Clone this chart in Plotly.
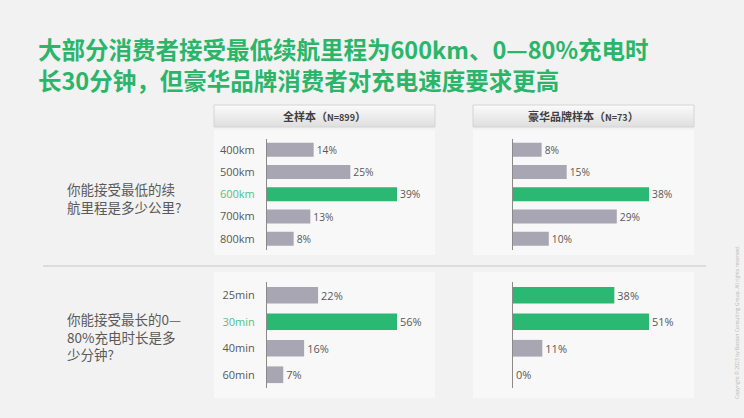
import plotly.graph_objects as go

# ---------------- data ----------------
range_categories = ["400km", "500km", "600km", "700km", "800km"]
range_all = [14, 25, 39, 13, 8]
range_luxury = [8, 15, 38, 29, 10]
range_highlight_all = ["600km"]
range_highlight_luxury = ["600km"]

charge_categories = ["25min", "30min", "40min", "60min"]
charge_all = [22, 56, 16, 7]
charge_luxury = [38, 51, 11, 0]
charge_highlight_all = ["30min"]
charge_highlight_luxury = ["25min", "30min"]

panel_titles = ["全样本（<span style='font-size:9px'>N=899</span>）",
                "豪华品牌样本（<span style='font-size:9px'>N=73</span>）"]
title_lines = ["大部分消费者接受最低续航里程为600km、0—80%充电时",
               "长30分钟，但豪华品牌消费者对充电速度要求更高"]
questions = [["你能接受最低的续", "航里程是多少公里?"],
             ["你能接受最长的0—", "80%充电时长是多", "少分钟?"]]
copyright_text = "Copyright © 2023 by Boston Consulting Group. All rights reserved."

# ---------------- style ----------------
W, H = 744, 418
BG = "#f2f2f2"
PANEL = "#f8f8f8"
GREEN = "#2bb872"
GREY_BAR = "#a9a6b3"
TXT = "#595959"
LABEL_GREEN = "#4cc388"
FONT = "Open Sans, Noto Sans CJK SC, sans-serif"
CJK = "Noto Sans CJK SC, sans-serif"


def px(x):
    return x / W


def py(y):
    return 1 - y / H


fig = go.Figure()

# subplot geometry (pixels)
left_axis_x = (267, 435)
right_axis_x = (513, 693)
left_bar_end = 397
right_bar_end = 649
top_y = (138.5, 250)
bot_y = (282, 388)

panels = [
    (range_all, range_categories, range_highlight_all, "x", "y", left_axis_x, left_bar_end, top_y, True),
    (range_luxury, range_categories, range_highlight_luxury, "x2", "y2", right_axis_x, right_bar_end, top_y, False),
    (charge_all, charge_categories, charge_highlight_all, "x3", "y3", left_axis_x, left_bar_end, bot_y, True),
    (charge_luxury, charge_categories, charge_highlight_luxury, "x4", "y4", right_axis_x, right_bar_end, bot_y, False),
]

layout_axes = {}
for vals, cats, hl, xa, ya, xpx, bar_end, ypx, show_labels in panels:
    colors = [GREEN if c in hl else GREY_BAR for c in cats]
    fig.add_trace(go.Bar(
        x=vals, y=cats, orientation="h", xaxis=xa, yaxis=ya,
        marker=dict(color=colors, line=dict(width=0)),
        width=0.63,
        text=[f"{v}%" for v in vals], textposition="outside",
        textfont=dict(family=FONT, size=11, color=TXT),
        cliponaxis=False, showlegend=False, hoverinfo="skip",
    ))
    frac = (bar_end - xpx[0]) / (xpx[1] - xpx[0])
    xmax = max(vals) / frac
    xname = "xaxis" if xa == "x" else "xaxis" + xa[1:]
    yname = "yaxis" if ya == "y" else "yaxis" + ya[1:]
    layout_axes[xname] = dict(
        domain=[px(xpx[0]), px(xpx[1])], range=[0, xmax],
        visible=False, anchor=ya, fixedrange=True,
    )
    ticktext = [f"<span style='color:{LABEL_GREEN}'>{c}</span>" if c in hl else c for c in cats]
    layout_axes[yname] = dict(
        domain=[py(ypx[1]), py(ypx[0])],
        range=[len(cats) - 0.5, -0.5],
        type="category", categoryorder="array", categoryarray=cats,
        tickmode="array", tickvals=cats, ticktext=ticktext,
        showticklabels=show_labels,
        ticks="outside" if show_labels else "", ticklen=9, tickcolor="rgba(0,0,0,0)",
        tickfont=dict(family=FONT, size=11, color=TXT),
        showline=True, linecolor="#8a8a8a", linewidth=1,
        showgrid=False, zeroline=False, anchor=xa, fixedrange=True,
    )

fig.update_layout(**layout_axes)

shapes = []
# panel bodies
for x0, x1 in [(214, 435), (473, 694)]:
    for y0, y1 in [(130, 255), (272, 398)]:
        shapes.append(dict(type="rect", xref="paper", yref="paper",
                           x0=px(x0), x1=px(x1), y0=py(y1), y1=py(y0),
                           fillcolor=PANEL, line=dict(width=0), layer="below"))
# headers with gradient
n_strips = 11
for x0, x1 in [(214, 435), (473, 694)]:
    hy0, hy1 = 105, 127
    for i in range(n_strips):
        t = i / (n_strips - 1)
        c = int(250 - t * 26)
        ys0 = hy0 + (hy1 - hy0) * i / n_strips
        ys1 = hy0 + (hy1 - hy0) * (i + 1) / n_strips
        shapes.append(dict(type="rect", xref="paper", yref="paper",
                           x0=px(x0), x1=px(x1), y0=py(ys1), y1=py(ys0),
                           fillcolor=f"rgb({c},{c},{c})", line=dict(width=0), layer="below"))
    shapes.append(dict(type="rect", xref="paper", yref="paper",
                       x0=px(x0), x1=px(x1), y0=py(hy1), y1=py(hy0),
                       fillcolor="rgba(0,0,0,0)", line=dict(color="#d4d4d4", width=1), layer="below"))
# separator
shapes.append(dict(type="line", xref="paper", yref="paper",
                   x0=px(43), x1=px(706), y0=py(266), y1=py(266),
                   line=dict(color="#c6c6c6", width=1)))

annotations = []
# title (two lines, one text block)
annotations.append(dict(xref="paper", yref="paper", x=px(36), y=py(65),
                        xanchor="left", yanchor="middle", showarrow=False, align="left",
                        text="<b>" + "<br>".join(title_lines) + "</b>",
                        font=dict(family=CJK, size=23.5, color="#2ab569")))
# panel headers
for cx, t in zip([324.5, 583.5], panel_titles):
    annotations.append(dict(xref="paper", yref="paper", x=px(cx), y=py(116),
                            xanchor="center", yanchor="middle", showarrow=False,
                            text=f"<b>{t}</b>",
                            font=dict(family=CJK, size=11, color="#3f3f3f")))
# questions
for lines, yc in zip(questions, [198, 336]):
    annotations.append(dict(xref="paper", yref="paper", x=px(65), y=py(yc),
                            xanchor="left", yanchor="middle", showarrow=False, align="left",
                            text="<br>".join(lines),
                            font=dict(family=CJK, size=13.5, color=TXT)))
# copyright
annotations.append(dict(xref="paper", yref="paper", x=px(737), y=py(322),
                        xanchor="center", yanchor="middle", showarrow=False,
                        text=copyright_text, textangle=-90,
                        font=dict(family=FONT, size=5, color="#b5b5b5")))

fig.update_layout(
    width=W, height=H, margin=dict(l=0, r=0, t=0, b=0),
    paper_bgcolor=BG, plot_bgcolor="rgba(0,0,0,0)",
    shapes=shapes, annotations=annotations, bargap=0.37,
)

fig.write_html("out.html", config={"displayModeBar": False},
               post_script="document.body.style.margin='0';document.body.style.overflow='hidden';")
